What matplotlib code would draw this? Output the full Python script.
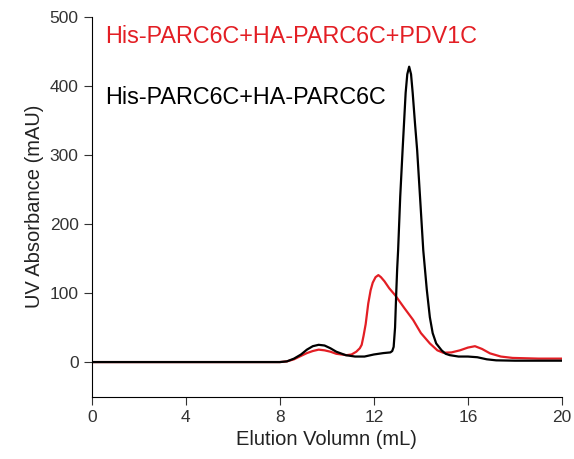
import matplotlib
matplotlib.use('Agg')
import matplotlib.pyplot as plt

plt.rcParams['font.family'] = ['Liberation Sans', 'DejaVu Sans']

# Elution volume (mL) and absorbance (mAU)
vol_black = [0, 2, 4, 6, 7.5, 8.0, 8.3, 8.6, 8.9, 9.15, 9.4, 9.65, 9.9, 10.15,
             10.4, 10.8, 11.2, 11.6, 12.0, 12.4, 12.7, 12.78, 12.84, 12.9,
             12.95, 12.99, 13.03, 13.12, 13.22, 13.35, 13.42, 13.5, 13.58,
             13.65, 13.75, 13.84, 13.97, 14.1, 14.25, 14.38, 14.5, 14.65,
             14.88, 15.05, 15.23, 15.6, 16.0, 16.4, 16.8, 17.2, 18, 19, 20]
abs_black = [0, 0, 0, 0, 0, 0, 1, 5, 11, 18, 23, 25, 24, 20,
             15, 10, 8, 8, 11, 13, 14, 16, 22, 50,
             100, 135, 162, 240, 307, 390, 417, 428, 417,
             390, 345, 307, 235, 162, 105, 65, 42, 27,
             17, 12, 10, 8, 8, 7, 4, 2.5, 2, 2, 2]

vol_red = [0, 2, 4, 6, 7.5, 8.0, 8.3, 8.6, 8.9, 9.15, 9.4, 9.65, 9.9, 10.15,
           10.4, 10.84, 11.05, 11.25, 11.4, 11.48, 11.56, 11.65, 11.76,
           11.86, 11.95, 12.07, 12.19, 12.3, 12.45, 12.65, 12.9, 13.3,
           13.67, 14.0, 14.38, 14.7, 14.95, 15.3, 15.66, 16.0, 16.3, 16.6,
           16.94, 17.4, 17.9, 19, 20]
abs_red = [0, 0, 0, 0, 0, 0, 1, 4, 9, 13, 16, 18, 17, 15,
           12, 10, 11, 15, 20, 25, 38, 55, 85,
           104, 115, 123, 126, 123, 117, 107, 97, 78,
           61, 42, 27, 17, 13.5, 14, 17, 21, 23, 19,
           12.6, 8, 6, 5, 5]

label_red = 'His-PARC6C+HA-PARC6C+PDV1C'
label_black = 'His-PARC6C+HA-PARC6C'

fig = plt.figure(figsize=(5.74, 4.59), dpi=100)
ax = fig.add_axes([0.160, 0.136, 0.819, 0.827])

ax.plot(vol_red, abs_red, color='#e31e24', lw=1.6)
ax.plot(vol_black, abs_black, color='black', lw=1.6)

ax.set_xlim(0, 20)
ax.set_ylim(-50, 500)
ax.set_xticks([0, 4, 8, 12, 16, 20])
ax.set_yticks([0, 100, 200, 300, 400, 500])

ax.spines['top'].set_visible(False)
ax.spines['right'].set_visible(False)
ax.tick_params(direction='out', labelsize=12.5, length=6, colors='#333333')

ax.set_xlabel('Elution Volumn (mL)', fontsize=14.5, color='#222222')
ax.set_ylabel('UV Absorbance (mAU)', fontsize=14.5, color='#222222')

ax.text(0.55, 472, label_red, color='#e31e24', fontsize=16.8, va='center')
ax.text(0.55, 384, label_black, color='black', fontsize=16.8, va='center')

plt.savefig('out.png', dpi=100)
